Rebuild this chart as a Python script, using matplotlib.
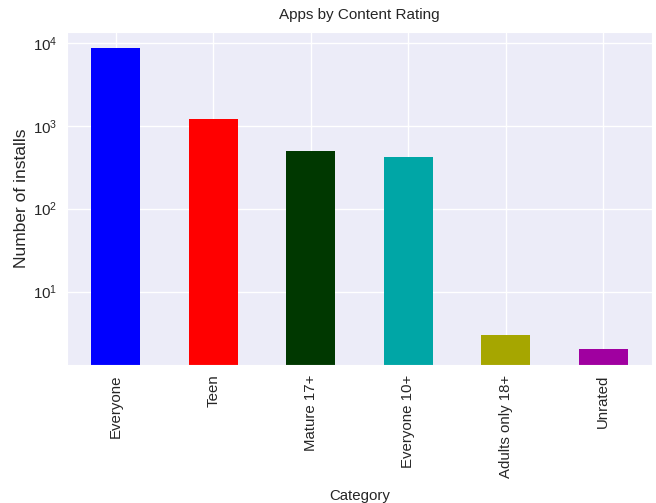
import numpy as np
import matplotlib
matplotlib.use("Agg")
import matplotlib.pyplot as plt
import seaborn as sns

ratings = ["Everyone", "Teen", "Mature 17+", "Everyone 10+", "Adults only 18+", "Unrated"]
counts = [8714, 1208, 499, 414, 3, 2]
bar_colors = ["#0000ff", "#ff0000", "#003800", "#00a6a6", "#a6a600", "#a000a0"]

sns.set_style("darkgrid")
plt.rcParams["font.family"] = ["Liberation Sans", "DejaVu Sans"]

fig = plt.figure(figsize=(6.56, 5.03), dpi=100)
ax = fig.add_axes([67 / 656, 1 - 365 / 503, 585 / 656, 333 / 503])
ax.set_facecolor("#ececf8")
ax.set_axisbelow(True)

x = np.arange(len(ratings))
ax.bar(x, counts, width=0.5, color=bar_colors, linewidth=0, zorder=2)
ax.set_yscale("log")
ax.set_ylim(1.3, 13500)
ax.set_xlim(-0.5, len(ratings) - 0.5)
ax.set_xticks(x)
ax.set_xticklabels(ratings, rotation=90, fontsize=10.8)
ax.tick_params(axis="y", labelsize=10.8)
ax.minorticks_off()
ax.set_yticks([10, 100, 1000, 10000])
ax.grid(True, color="white", linewidth=1)

ax.set_title("Apps by Content Rating", fontsize=11, pad=9)
ax.set_xlabel("Category", fontsize=10.8, labelpad=8)
ax.set_ylabel("Number of installs", fontsize=12.5, labelpad=3)

fig.savefig("out.png", dpi=100)
